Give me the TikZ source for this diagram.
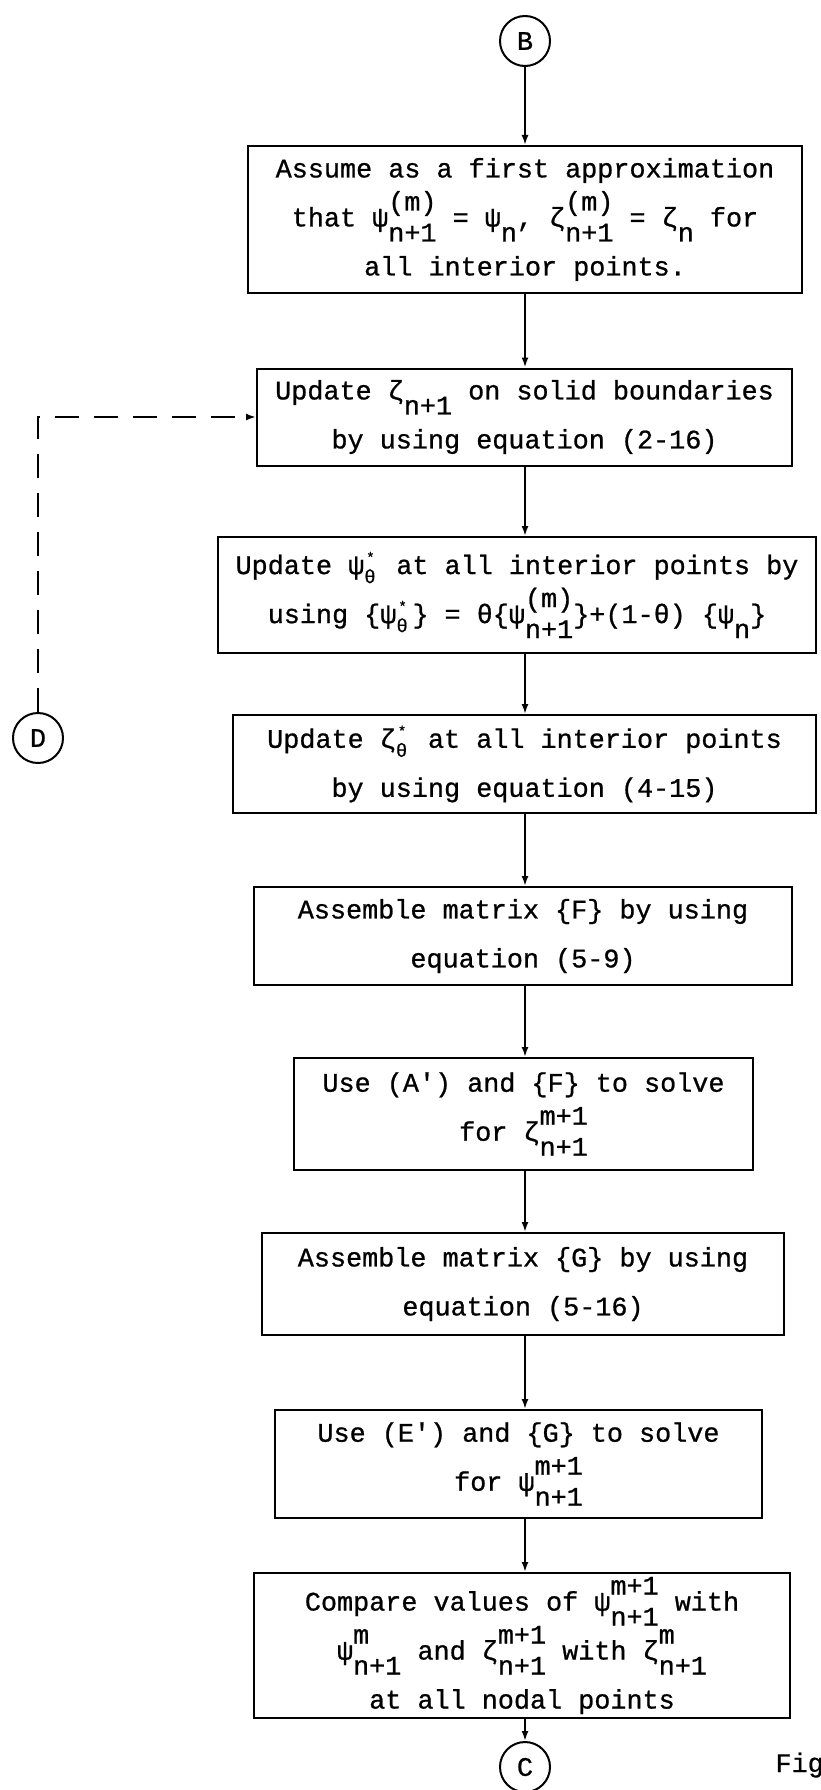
\documentclass[tikz,border=0pt]{standalone}
\usepackage{fontspec}
\setmainfont{Liberation Mono}[FakeBold=0.8]
\usetikzlibrary{arrows.meta}

% typewriter body text
\newcommand\flowfont{\fontsize{26.8}{49}\selectfont\lineskiplimit=-100pt\relax}
% raised superscript over lowered subscript, both full size
\newcommand\su[2]{\rlap{\raisebox{16pt}{#1}}\raisebox{-15pt}{#2}}
% lowered subscript only
\newcommand\lowr[1]{\raisebox{-15pt}{#1}}
% small star over theta, one character wide
\newcommand\stk{\makebox[16pt][l]{\rlap{\hspace{2pt}\raisebox{12pt}{\fontsize{14}{14}\selectfont *}}\raisebox{-9pt}{\fontsize{19}{19}\selectfont θ}}}

\tikzset{
  stepbox/.style={draw, line width=2pt, inner sep=0pt, align=center, font=\flowfont},
  link/.style={circle, draw, line width=2pt, minimum size=50pt, inner sep=0pt, font=\flowfont},
  conn/.style={line width=2pt, -{Latex[length=10pt,width=7pt]}},
  back/.style={conn, dash pattern=on 24pt off 15pt}
}

\begin{document}
\begin{tikzpicture}[x=1pt, y=-1pt]
\useasboundingbox (0,0) rectangle (820,1790);

% connectors to other pages
\node[link] (B) at (525,41) {B};
\node[link] (C) at (525,1767) {C};
\node[link] (D) at (38,738) {D};

% process steps
\node[stepbox, minimum width=554pt, minimum height=147pt] (s1) at (525,219.5)
  {Assume as a first approximation\\
   that ψ\su{(m)}{n+1} = ψ\lowr{n}, ζ\su{(m)}{n+1} = ζ\lowr{n} for\\
   all interior points.};
\node[stepbox, minimum width=535pt, minimum height=97pt] (s2) at (524.5,417)
  {Update ζ\lowr{n+1} on solid boundaries\\
   by using equation (2-16)};
\node[stepbox, minimum width=598pt, minimum height=116pt] (s3) at (517,595)
  {Update ψ\stk{} at all interior points by\\
   using \{ψ\stk\} = θ\{ψ\su{(m)}{n+1}\}+(1-θ) \{ψ\lowr{n}\}};
\node[stepbox, minimum width=583pt, minimum height=98pt] (s4) at (524.5,764)
  {Update ζ\stk{} at all interior points\\
   by using equation (4-15)};
\node[stepbox, minimum width=538pt, minimum height=98pt] (s5) at (523,936)
  {Assemble matrix \{F\} by using\\
   equation (5-9)};
\node[stepbox, minimum width=459pt, minimum height=112pt] (s6) at (523.5,1114)
  {Use (A\textquotesingle) and \{F\} to solve\\
   for ζ\su{m+1}{n+1}};
\node[stepbox, minimum width=522pt, minimum height=102pt] (s7) at (523,1284)
  {Assemble matrix \{G\} by using\\
   equation (5-16)};
\node[stepbox, minimum width=487pt, minimum height=108pt] (s8) at (518.5,1464)
  {Use (E\textquotesingle) and \{G\} to solve\\
   for ψ\su{m+1}{n+1}};
\node[stepbox, minimum width=536pt, minimum height=145pt] (s9) at (522,1645.5)
  {Compare values of ψ\su{m+1}{n+1} with\\
   ψ\su{m}{n+1} and ζ\su{m+1}{n+1} with ζ\su{m}{n+1}\\
   at all nodal points};

\node[font=\flowfont, anchor=base west] (fig) at (772,1772) {Fig};

% main flow
\draw[conn] (B) -- (s1.north -| B);
\draw[conn] (s1.south -| B) -- (s2.north -| B);
\draw[conn] (s2.south -| B) -- (s3.north -| B);
\draw[conn] (s3.south -| B) -- (s4.north -| B);
\draw[conn] (s4.south -| B) -- (s5.north -| B);
\draw[conn] (s5.south -| B) -- (s6.north -| B);
\draw[conn] (s6.south -| B) -- (s7.north -| B);
\draw[conn] (s7.south -| B) -- (s8.north -| B);
\draw[conn] (s8.south -| B) -- (s9.north -| B);
\draw[conn] (s9.south -| B) -- (C);

% return path
\draw[back] (D) |- (s2.west);
\end{tikzpicture}
\end{document}
